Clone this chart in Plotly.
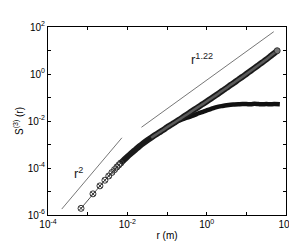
import plotly.graph_objects as go

# ---- data ----
# upper series (S3, full)
upper_r = [6.8e-4, 1.36e-3, 2.04e-3, 2.72e-3, 3.4e-3, 4.08e-3, 4.76e-3, 5.44e-3, 6.12e-3, 6.8e-3,
           8.2e-3, 1.0e-2, 1.3e-2, 1.6e-2, 2.0e-2, 2.5e-2, 3.2e-2, 4.0e-2, 5.0e-2, 6.3e-2,
           8.0e-2, 0.1, 0.13, 0.16, 0.2, 0.25, 0.32, 0.4, 0.5, 0.63, 0.8, 1.0, 1.3, 1.6, 2.0,
           2.5, 3.2, 4.0, 5.0, 6.3, 8.0, 10, 13, 16, 20, 25, 32, 40, 50, 60]
upper_logy = [-5.717, -5.10, -4.76, -4.52, -4.34, -4.19, -4.07, -3.96, -3.87, -3.79,
              -3.66, -3.52, -3.35, -3.22, -3.08, -2.95, -2.82, -2.71, -2.60, -2.49,
              -2.38, -2.27, -2.15, -2.05, -1.95, -1.84, -1.72, -1.61, -1.50, -1.39,
              -1.28, -1.17, -1.04, -0.94, -0.83, -0.71, -0.59, -0.47, -0.36, -0.24,
              -0.12, 0.0, 0.14, 0.25, 0.37, 0.49, 0.62, 0.75, 0.88, 0.99]

# lower series (branch that saturates)
lower_r = [6.8e-4, 1.36e-3, 2.04e-3, 2.72e-3, 3.4e-3, 4.08e-3, 4.76e-3, 5.44e-3, 6.12e-3, 6.8e-3,
           8.2e-3, 1.0e-2, 1.3e-2, 1.6e-2, 2.0e-2, 2.5e-2, 3.2e-2, 4.0e-2, 5.0e-2, 6.3e-2,
           8.0e-2, 0.1, 0.13, 0.16, 0.2, 0.25, 0.32, 0.4, 0.5, 0.63, 0.8, 1.0, 1.3, 1.6, 2.0,
           2.5, 3.2, 4.0, 5.0, 6.3, 8.0, 10, 13, 16, 20, 25, 32, 40, 50, 70]
lower_logy = [-5.717, -5.10, -4.76, -4.52, -4.34, -4.19, -4.07, -3.96, -3.87, -3.79,
              -3.66, -3.52, -3.35, -3.22, -3.08, -2.95, -2.82, -2.71, -2.60, -2.49,
              -2.38, -2.27, -2.15, -2.06, -1.98, -1.92, -1.86, -1.80, -1.74, -1.67,
              -1.61, -1.55, -1.48, -1.43, -1.39, -1.36, -1.33, -1.31, -1.30, -1.29,
              -1.28, -1.28, -1.29, -1.27, -1.28, -1.29, -1.28, -1.29, -1.28, -1.29]

# reference power-law guide lines
r2_r = [2.22e-4, 7.3e-3]
r2_y = [1.79e-6, 1.93e-3]
r122_r = [0.0227, 49.1]
r122_y = [5.42e-3, 63.1]

x_tickvals = [1e-4, 1e-3, 1e-2, 1e-1, 1e0, 1e1, 1e2]
x_ticktext = ["10<sup>-4</sup>", "", "10<sup>-2</sup>", "", "10<sup>0</sup>", "", "10<sup>2</sup>"]
y_tickvals = [1e-6, 1e-5, 1e-4, 1e-3, 1e-2, 1e-1, 1e0, 1e1, 1e2]
y_ticktext = ["10<sup>-6</sup>", "", "10<sup>-4</sup>", "", "10<sup>-2</sup>", "",
              "10<sup>0</sup>", "", "10<sup>2</sup>"]

upper_y = [10 ** v for v in upper_logy]
lower_y = [10 ** v for v in lower_logy]

N_SPARSE = 10   # first points are individually visible markers
BAND_FROM = 9

FONT = "Liberation Sans, Arial, Helvetica, sans-serif"

fig = go.Figure()
# guide lines
fig.add_trace(go.Scatter(x=r2_r, y=r2_y, mode="lines",
                         line=dict(color="#777777", width=1), showlegend=False))
fig.add_trace(go.Scatter(x=r122_r, y=r122_y, mode="lines",
                         line=dict(color="#777777", width=1), showlegend=False))
# thin connecting line through all points
fig.add_trace(go.Scatter(x=upper_r, y=upper_y, mode="lines",
                         line=dict(color="#555555", width=1), showlegend=False))
# dense band: lower (black)
fig.add_trace(go.Scatter(x=lower_r[BAND_FROM:], y=lower_y[BAND_FROM:], mode="lines",
                         line=dict(color="#111111", width=4.5, shape="spline"), showlegend=False))
# dense band: upper (black edges, gray core)
fig.add_trace(go.Scatter(x=upper_r[BAND_FROM:], y=upper_y[BAND_FROM:], mode="lines",
                         line=dict(color="#1a1a1a", width=6, shape="spline"), showlegend=False))
fig.add_trace(go.Scatter(x=upper_r[BAND_FROM + 8:], y=upper_y[BAND_FROM + 8:], mode="lines",
                         line=dict(color="#5a5a5a", width=2.5, shape="spline"), showlegend=False))
# sparse visible markers
fig.add_trace(go.Scatter(x=upper_r[:N_SPARSE], y=upper_y[:N_SPARSE], mode="markers",
                         marker=dict(symbol="circle-x-open", size=6, color="#333333",
                                     line=dict(width=1)),
                         showlegend=False))
# end marker of upper series
fig.add_trace(go.Scatter(x=upper_r[-1:], y=upper_y[-1:], mode="markers",
                         marker=dict(symbol="circle", size=6, color="#777777",
                                     line=dict(width=1, color="#333333")),
                         showlegend=False))

fig.add_annotation(x=-3.223, y=-4.226, xref="x", yref="y", text="r<sup>2</sup>",
                   showarrow=False, font=dict(size=13, color="#222222", family=FONT))
fig.add_annotation(x=-0.114, y=0.62, xref="x", yref="y", text="r<sup>1.22</sup>",
                   showarrow=False, font=dict(size=13, color="#222222", family=FONT))

axis_common = dict(type="log", showgrid=False, zeroline=False, showline=True,
                   linecolor="black", linewidth=1, mirror="ticks", ticks="inside",
                   ticklen=3, tickcolor="black", tickfont=dict(size=10, family=FONT, color="black"))

fig.update_xaxes(range=[-4, 2], tickvals=x_tickvals, ticktext=x_ticktext,
                 title=dict(text="r (m)", font=dict(size=10, family=FONT, color="black"), standoff=2),
                 **axis_common)
fig.update_yaxes(range=[-6, 2], tickvals=y_tickvals, ticktext=y_ticktext,
                 title=dict(text="S<sup>(3)</sup> (r)", font=dict(size=10, family=FONT, color="black"), standoff=2),
                 **axis_common)

fig.update_layout(width=297, height=242, margin=dict(l=39, r=11, t=19, b=28),
                  paper_bgcolor="white", plot_bgcolor="white",
                  font=dict(family=FONT, color="black"))

fig.write_html("out.html")
